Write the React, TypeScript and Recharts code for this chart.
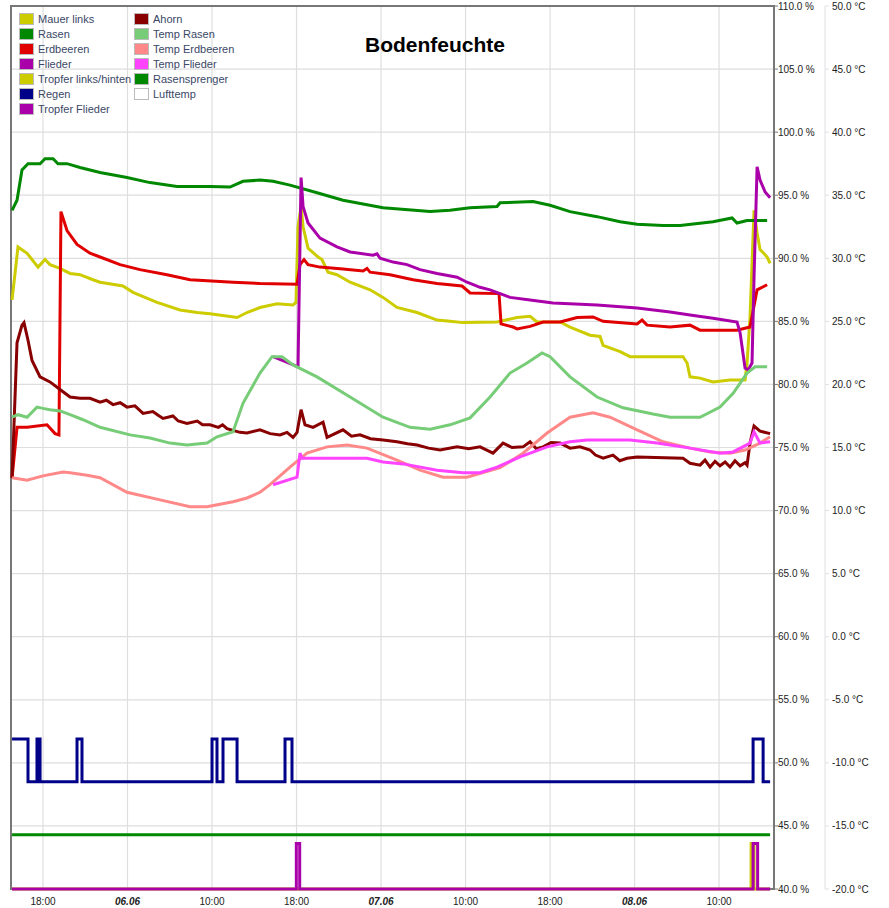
import { LineChart, Line, XAxis, YAxis, CartesianGrid, Legend, ReferenceArea } from "recharts";

type Pt = [number, number];

const FONT = "'Liberation Sans', Arial, Helvetica, sans-serif";

// hours relative to the first "18:00" gridline, one label every 8 slots
const xTicks = [0, 8, 16, 24, 32, 40, 48, 56, 64];
const xLabels = ["18:00", "06.06", "10:00", "18:00", "07.06", "10:00", "18:00", "08.06", "10:00"];
const pctTicks = [40, 45, 50, 55, 60, 65, 70, 75, 80, 85, 90, 95, 100, 105, 110];
const tempTicks = [-20, -15, -10, -5, 0, 5, 10, 15, 20, 25, 30, 35, 40, 45, 50];

const mauerLinks: Pt[] = [
  [-2.93, 86.7], [-2.37, 90.9], [-1.51, 90.4], [-0.47, 89.3], [0.19, 89.9], [0.66, 89.5], [1.61, 89.2],
  [2.56, 88.8], [3.5, 88.7], [4.73, 88.3], [5.4, 88.1], [7.57, 87.8], [8.52, 87.3], [10.79, 86.5],
  [12.97, 85.9], [14.58, 85.7], [15.81, 85.6], [18.37, 85.3], [19.31, 85.7], [20.54, 86.1], [22.15, 86.4],
  [23.67, 86.3], [23.95, 86.5], [24.14, 92.5], [24.43, 94.1], [24.62, 92.5], [25.09, 90.8], [26.04, 90.1],
  [26.41, 89.9], [26.98, 88.9], [27.83, 88.7], [29.07, 88.1], [30.96, 87.5], [32.19, 86.9], [33.51, 86.1],
  [35.41, 85.7], [37.3, 85.1], [38.53, 85.0], [39.76, 84.9], [42.98, 84.95], [44.88, 85.3], [46.11, 85.4],
  [46.77, 84.95], [48.95, 84.95], [49.89, 84.55], [51.79, 83.9], [52.73, 83.8], [53.02, 83.1], [54.63, 82.6],
  [55.57, 82.2], [60.59, 82.2], [60.97, 81.7], [61.25, 80.6], [62.2, 80.5], [63.43, 80.2], [65.04, 80.35],
  [66.46, 80.35], [66.65, 81.7], [66.93, 85.3], [67.31, 93.8], [67.6, 92.0], [67.88, 90.7], [68.55, 90.1],
  [68.83, 89.6],
];

const rasen: Pt[] = [
  [-2.93, 93.8], [-2.46, 94.6], [-1.99, 97.0], [-1.42, 97.5], [-0.28, 97.5], [0.19, 97.9], [0.95, 97.9],
  [1.42, 97.5], [2.27, 97.5], [3.5, 97.2], [5.4, 96.8], [7.95, 96.4], [10.13, 96.0], [12.69, 95.7],
  [15.81, 95.7], [17.7, 95.65], [18.93, 96.1], [20.54, 96.2], [21.78, 96.1], [23.38, 95.8], [25.94, 95.2],
  [28.4, 94.6], [32.19, 94.0], [36.64, 93.7], [38.53, 93.8], [40.43, 94.0], [42.98, 94.1], [43.27, 94.4],
  [46.39, 94.5], [48.0, 94.2], [49.89, 93.7], [52.45, 93.3], [54.63, 92.9], [56.24, 92.7], [58.7, 92.6],
  [60.31, 92.6], [63.43, 92.9], [65.23, 93.2], [65.7, 92.8], [66.65, 93.0], [68.55, 93.0],
];

const erdbeeren: Pt[] = [
  [-2.93, 72.6], [-2.46, 76.6], [-1.51, 76.6], [0.38, 76.8], [1.14, 76.1], [1.51, 76.0], [1.7, 93.7],
  [2.27, 92.2], [3.22, 91.1], [4.45, 90.4], [5.4, 90.1], [7.29, 89.5], [9.18, 89.1], [11.74, 88.7],
  [13.92, 88.3], [17.99, 88.1], [20.54, 88.0], [24.05, 87.95], [24.33, 89.5], [24.71, 89.9], [25.09, 89.5],
  [26.22, 89.3], [28.4, 89.15], [30.3, 89.0], [30.67, 89.2], [30.96, 88.9], [32.85, 88.7], [35.03, 88.3],
  [37.3, 88.0], [39.67, 87.8], [40.43, 87.25], [43.17, 87.2], [43.36, 84.8], [44.5, 84.55], [44.88, 84.4],
  [46.11, 84.6], [47.34, 84.95], [48.95, 84.95], [50.56, 85.3], [52.07, 85.35], [53.02, 85.0], [56.24, 84.8],
  [56.71, 85.1], [57.18, 84.7], [59.36, 84.55], [61.25, 84.7], [62.2, 84.3], [65.7, 84.3], [66.93, 84.55],
  [67.6, 87.5], [68.55, 87.9],
];

const flieder: Pt[] = [
  [21.78, 82.2], [24.14, 81.4], [24.43, 96.4], [24.62, 94.1], [25.09, 92.8], [26.22, 91.6], [27.83, 90.9],
  [29.07, 90.5], [31.24, 90.25], [31.62, 90.35], [31.91, 90.0], [33.14, 89.7], [34.46, 89.5], [35.69, 89.1],
  [37.3, 88.8], [39.2, 88.5], [40.14, 88.1], [41.37, 87.7], [42.32, 87.5], [44.21, 86.9], [46.11, 86.7],
  [48.28, 86.45], [52.45, 86.3], [56.24, 86.05], [59.36, 85.75], [61.25, 85.5], [63.43, 85.25], [65.7, 84.95],
  [65.99, 84.1], [66.46, 81.3], [66.75, 81.15], [67.12, 81.7], [67.31, 88.5], [67.6, 97.25], [67.88, 96.2],
  [68.36, 95.25], [68.83, 94.8],
];

const tropferLinks: Pt[] = [[-2.93, 40], [67.03, 43.6], [67.31, 40], [68.83, 40]];

const regen: Pt[] = [
  [-2.93, 51.9], [-1.42, 48.5], [-0.57, 51.9], [-0.47, 48.5], [-0.38, 51.9], [-0.28, 48.5], [3.22, 51.9],
  [3.69, 48.5], [16.0, 51.9], [16.47, 48.5], [17.04, 51.9], [18.37, 48.5], [22.91, 51.9], [23.57, 48.5],
  [67.22, 51.9], [68.17, 48.5], [68.83, 48.5],
];

const tropferFlieder: Pt[] = [[-2.93, 40], [23.98, 43.6], [24.3, 40], [67.22, 43.6], [67.65, 40], [68.83, 40]];

const ahorn: Pt[] = [
  [-2.93, 72.6], [-2.46, 83.3], [-1.99, 84.7], [-1.8, 84.9], [-1.42, 83.5], [-1.04, 81.9], [-0.28, 80.6],
  [0.66, 80.2], [1.61, 79.6], [2.56, 79.0], [3.5, 78.9], [4.45, 78.9], [5.4, 78.6], [6.0, 78.75], [6.63, 78.4],
  [7.3, 78.55], [7.95, 78.2], [8.7, 78.3], [9.47, 77.7], [10.4, 77.85], [10.9, 77.55], [11.36, 77.3],
  [12.3, 77.5], [12.8, 77.1], [13.63, 76.9], [14.6, 77.1], [15.1, 76.8], [15.81, 76.8], [16.6, 76.6],
  [17.0, 76.8], [17.42, 76.5], [18.65, 76.2], [19.31, 76.15], [20.54, 76.4], [21.5, 76.1], [22.44, 76.0],
  [23.1, 76.2], [23.67, 75.8], [24.05, 76.2], [24.43, 78.0], [24.8, 76.8], [25.56, 76.6], [26.51, 77.0],
  [26.89, 75.8], [28.4, 76.4], [29.2, 75.9], [30.01, 76.0], [31.0, 75.7], [32.19, 75.6], [33.51, 75.45],
  [34.5, 75.3], [35.41, 75.2], [36.5, 74.95], [37.59, 74.8], [39.2, 75.05], [40.3, 74.9], [41.37, 75.05],
  [42.6, 74.55], [43.55, 75.35], [44.4, 75.0], [45.44, 75.05], [46.11, 75.45], [46.7, 74.9], [47.34, 75.05],
  [48.1, 75.4], [48.95, 75.35], [49.9, 74.95], [50.84, 75.05], [51.79, 74.8], [52.3, 74.4], [53.02, 74.15],
  [53.96, 74.4], [54.6, 73.95], [55.29, 74.15], [56.24, 74.25], [60.59, 74.15], [61.25, 73.75], [62.2, 73.6],
  [62.67, 74.0], [63.15, 73.45], [63.62, 73.9], [64.09, 73.55], [64.57, 73.85], [65.04, 73.45], [65.51, 73.95],
  [65.99, 73.55], [66.46, 73.8], [66.65, 73.6], [66.93, 75.35], [67.31, 76.7], [67.88, 76.3], [68.83, 76.1],
];

// temperatures in °C (right-hand axis)
const tempRasen: Pt[] = [
  [-2.93, 17.4], [-2.37, 17.6], [-1.51, 17.4], [-0.57, 18.2], [0, 18.1], [0.66, 18.0], [1.61, 17.9],
  [2.56, 17.6], [3.79, 17.2], [5.4, 16.6], [8.24, 16.0], [10.13, 15.75], [12.02, 15.35], [13.63, 15.2],
  [15.53, 15.35], [16.47, 15.85], [17.99, 16.25], [18.93, 18.5], [20.54, 20.9], [21.68, 22.2], [22.63, 22.2],
  [23.67, 21.55], [25.94, 20.6], [29.07, 19.0], [32.19, 17.4], [34.75, 16.6], [36.64, 16.45], [38.53, 16.8],
  [40.43, 17.35], [42.32, 19.0], [44.21, 20.9], [45.82, 21.7], [47.24, 22.5], [48.0, 22.2], [49.89, 20.6],
  [52.45, 19.0], [54.91, 18.15], [57.75, 17.65], [59.36, 17.4], [62.2, 17.4], [64.09, 18.2], [65.33, 19.3],
  [66.65, 20.9], [67.41, 21.4], [68.55, 21.4],
];

const tempErdbeeren: Pt[] = [
  [-2.93, 12.6], [-1.51, 12.4], [0, 12.75], [1.89, 13.05], [2.56, 13.0], [4.17, 12.8], [5.4, 12.6],
  [7.95, 11.45], [11.08, 10.85], [13.92, 10.3], [15.53, 10.3], [17.99, 10.7], [19.31, 11.0], [20.54, 11.45],
  [21.49, 12.05], [23.38, 13.45], [24.99, 14.55], [26.89, 15.05], [28.78, 15.2], [30.67, 14.95], [33.51, 14.0],
  [35.69, 13.2], [37.87, 12.65], [40.14, 12.65], [43.27, 13.4], [45.44, 14.55], [47.72, 16.15], [49.89, 17.4],
  [52.07, 17.75], [53.68, 17.4], [56.24, 16.4], [58.7, 15.45], [61.25, 14.95], [63.15, 14.65], [65.04, 14.55],
  [66.46, 14.8], [67.88, 15.35], [68.83, 15.85],
];

const tempFlieder: Pt[] = [
  [21.78, 12.05], [24.05, 12.65], [24.33, 14.55], [24.52, 14.15], [30.67, 14.15], [32.19, 13.85], [34.08, 13.7],
  [37.3, 13.2], [39.76, 13.0], [41.37, 13.0], [42.98, 13.45], [45.16, 14.25], [47.72, 15.05], [49.89, 15.45],
  [51.5, 15.6], [55.57, 15.6], [58.13, 15.35], [61.25, 14.95], [64.09, 14.55], [65.33, 14.65], [66.93, 15.35],
  [67.31, 16.25], [67.88, 15.35], [68.83, 15.45],
];

const rasensprenger: Pt[] = [[-2.93, 44.3], [68.83, 44.3]];

const lufttemp: Pt[] = [];

const rows = (pts: Pt[]) => pts.map(([t, v]) => ({ t, v }));

const series = [
  { name: "Mauer links", color: "#cccc00", pts: mauerLinks, axis: "pct", step: false },
  { name: "Rasen", color: "#008800", pts: rasen, axis: "pct", step: false },
  { name: "Erdbeeren", color: "#e00000", pts: erdbeeren, axis: "pct", step: false },
  { name: "Flieder", color: "#aa00aa", pts: flieder, axis: "pct", step: false },
  { name: "Tropfer links/hinten", color: "#cccc00", pts: tropferLinks, axis: "pct", step: true },
  { name: "Regen", color: "#000088", pts: regen, axis: "pct", step: true },
  { name: "Tropfer Flieder", color: "#aa00aa", pts: tropferFlieder, axis: "pct", step: true },
  { name: "Ahorn", color: "#880000", pts: ahorn, axis: "pct", step: false },
  { name: "Temp Rasen", color: "#77cc77", pts: tempRasen, axis: "temp", step: false },
  { name: "Temp Erdbeeren", color: "#ff8888", pts: tempErdbeeren, axis: "temp", step: false },
  { name: "Temp Flieder", color: "#ff44ff", pts: tempFlieder, axis: "temp", step: false },
  { name: "Rasensprenger", color: "#008800", pts: rasensprenger, axis: "pct", step: false },
  { name: "Lufttemp", color: "#ffffff", pts: lufttemp, axis: "temp", step: false },
];
const legendOrder = series.map((s) => s.name);

const XTick = (props: any) => {
  const { x, y, payload } = props;
  const label = xLabels[xTicks.indexOf(payload.value)] ?? "";
  const isDate = label.includes(".");
  return (
    <text
      x={x}
      y={y}
      dy={14}
      textAnchor="middle"
      fontSize={10}
      fontFamily={FONT}
      fontWeight={isDate ? "bold" : "normal"}
      fontStyle={isDate ? "italic" : "normal"}
      fill="#222"
    >
      {label}
    </text>
  );
};

const makeYTick = (unit: string, gap: number) => (props: any) => {
  const { x, y, payload } = props;
  return (
    <text x={x + gap} y={y} dy={3.5} textAnchor="start" fontSize={10} fontFamily={FONT} fill="#222">
      {`${Number(payload.value).toFixed(1)} ${unit}`}
    </text>
  );
};
const PctTick = makeYTick("%", 0);
const TempTick = makeYTick("°C", 0);

const renderLegend = (props: any) => {
  const items = [...(props.payload ?? [])].sort(
    (a: any, b: any) => legendOrder.indexOf(a.value) - legendOrder.indexOf(b.value)
  );
  return (
    <div
      style={{
        display: "grid",
        gridTemplateColumns: "115px auto",
        gridTemplateRows: "repeat(7, 15px)",
        gridAutoFlow: "column",
        fontFamily: FONT,
        fontSize: 11,
        color: "#3a4766",
      }}
    >
      {items.map((it: any) => (
        <div key={it.value} style={{ display: "flex", alignItems: "center", whiteSpace: "nowrap" }}>
          <span
            style={{
              width: 13,
              height: 10,
              background: it.color,
              border: "1px solid #bbb",
              marginRight: 4,
              flex: "none",
            }}
          />
          {it.value}
        </div>
      ))}
    </div>
  );
};

export default function App() {
  return (
    <div style={{ position: "absolute", left: 0, top: 0, width: 889, height: 908, background: "#fff" }}>
      <LineChart width={889} height={908} margin={{ top: 6, right: 0, bottom: 0, left: 11 }}>
        <CartesianGrid yAxisId="pct" stroke="#dedede" strokeWidth={1.2} />
        <XAxis
          type="number"
          dataKey="t"
          domain={[-3.03, 69.2]}
          ticks={xTicks}
          interval={0}
          axisLine={false}
          tickLine={false}
          tickSize={0}
          height={19}
          tick={<XTick />}
        />
        <YAxis
          yAxisId="pct"
          orientation="right"
          type="number"
          domain={[40, 110]}
          ticks={pctTicks}
          interval={0}
          width={51}
          axisLine={false}
          tickLine={{ stroke: "#777" }}
          tickSize={4}
          tickMargin={0}
          tick={<PctTick />}
        />
        <YAxis
          yAxisId="temp"
          orientation="right"
          type="number"
          domain={[-20, 50]}
          ticks={tempTicks}
          interval={0}
          width={64}
          axisLine={{ stroke: "#e0e0e0" }}
          tickLine={{ stroke: "#e0e0e0" }}
          tickSize={4}
          tickMargin={3}
          tick={<TempTick />}
        />
        <ReferenceArea
          yAxisId="pct"
          x1={-3.03}
          x2={69.2}
          y1={40}
          y2={110}
          fill="none"
          stroke="#777"
          strokeWidth={2}
        />
        {series.map((s) => (
          <Line
            key={s.name}
            name={s.name}
            data={rows(s.pts)}
            dataKey="v"
            yAxisId={s.axis}
            type={s.step ? "stepAfter" : "linear"}
            stroke={s.color}
            strokeWidth={3}
            dot={false}
            activeDot={false}
            isAnimationActive={false}
          />
        ))}
        <Legend
          layout="vertical"
          align="center"
          verticalAlign="middle"
          wrapperStyle={{ top: 11, left: 19, width: 260 }}
          content={renderLegend}
        />
      </LineChart>
      <div
        style={{
          position: "absolute",
          left: 0,
          top: 34,
          width: 870,
          textAlign: "center",
          fontFamily: FONT,
          fontWeight: "bold",
          fontSize: 21,
          lineHeight: "21px",
          color: "#000",
        }}
      >
        Bodenfeuchte
      </div>
    </div>
  );
}
